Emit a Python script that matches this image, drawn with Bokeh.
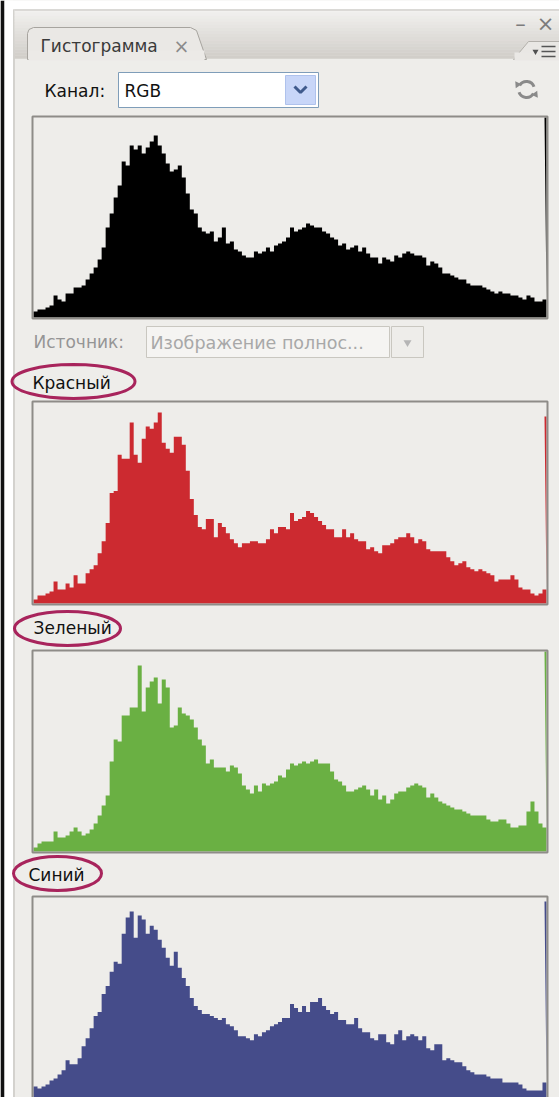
from bokeh.plotting import figure
from bokeh.models import Range1d, ColumnDataSource
from bokeh.embed import file_html
from bokeh.resources import INLINE
from bokeh.core.properties import value

# ---------------- data (0..100 of histogram height) ----------------
bin_start = list(range(0, 256, 2))          # 128 bins, 2 levels each
rgb_vals = [3, 4, 4, 5, 6, 11, 9, 8, 12, 12,
            15, 15, 16, 19, 22, 25, 29, 35, 45, 52,
            60, 66, 78, 76, 86, 84, 86, 82, 85, 88,
            91, 86, 82, 77, 73, 74, 76, 70, 62, 54,
            52, 45, 43, 42, 43, 38, 40, 45, 37, 38,
            34, 33, 31, 30, 30, 33, 32, 33, 35, 33,
            36, 37, 38, 40, 45, 43, 44, 45, 47, 46,
            45, 45, 43, 42, 40, 39, 36, 37, 34, 35,
            36, 33, 35, 32, 30, 30, 27, 30, 29, 28,
            31, 30, 32, 33, 32, 31, 31, 30, 26, 28,
            27, 25, 22, 22, 21, 20, 19, 19, 17, 16,
            16, 16, 15, 14, 13, 12, 13, 12, 12, 11,
            11, 10, 9, 11, 10, 8, 8, 9]
red_vals = [2, 4, 4, 5, 6, 11, 7, 7, 10, 8,
            14, 10, 10, 15, 17, 19, 25, 31, 40, 55,
            56, 74, 72, 72, 90, 74, 70, 82, 88, 87,
            90, 95, 80, 77, 75, 83, 83, 79, 66, 52,
            44, 38, 37, 42, 42, 33, 40, 38, 35, 32,
            30, 28, 30, 30, 31, 31, 30, 30, 32, 37,
            35, 38, 38, 37, 45, 41, 42, 43, 46, 45,
            43, 41, 39, 37, 37, 33, 33, 37, 33, 35,
            32, 31, 31, 27, 28, 26, 25, 29, 29, 30,
            32, 33, 33, 35, 33, 30, 32, 31, 27, 26,
            26, 26, 26, 23, 21, 19, 20, 21, 18, 17,
            16, 17, 16, 15, 14, 11, 12, 12, 12, 14,
            12, 8, 7, 7, 5, 4, 5, 7]
green_vals = [2, 4, 5, 5, 5, 10, 7, 7, 8, 10,
              12, 10, 8, 9, 11, 14, 18, 23, 28, 45,
              56, 55, 68, 68, 72, 72, 93, 70, 82, 85,
              87, 74, 86, 82, 62, 63, 72, 69, 68, 66,
              62, 56, 53, 44, 46, 42, 42, 42, 40, 43,
              42, 39, 33, 31, 29, 33, 30, 34, 33, 34,
              35, 38, 37, 41, 44, 43, 44, 45, 44, 45,
              46, 44, 44, 44, 40, 36, 35, 33, 30, 30,
              31, 32, 33, 31, 28, 31, 26, 28, 24, 26,
              29, 30, 30, 32, 33, 34, 33, 32, 27, 29,
              27, 25, 24, 23, 22, 21, 21, 20, 19, 18,
              18, 18, 18, 16, 15, 15, 16, 16, 14, 12,
              12, 13, 13, 20, 25, 20, 14, 12]
blue_vals = [6, 5, 6, 7, 9, 10, 12, 14, 19, 17,
             17, 20, 26, 30, 35, 41, 43, 52, 56, 63,
             68, 67, 82, 90, 93, 80, 91, 89, 82, 86,
             84, 79, 75, 70, 66, 73, 65, 60, 56, 50,
             46, 44, 42, 42, 41, 40, 39, 40, 37, 36,
             34, 31, 31, 30, 29, 32, 31, 33, 34, 36,
             37, 38, 40, 40, 47, 45, 43, 46, 43, 48,
             48, 50, 46, 44, 42, 43, 39, 39, 37, 37,
             40, 35, 33, 33, 30, 29, 32, 32, 28, 27,
             32, 34, 29, 31, 32, 31, 29, 31, 25, 24,
             27, 27, 19, 20, 19, 18, 18, 16, 14, 13,
             12, 12, 12, 11, 10, 10, 10, 8, 8, 8,
             8, 7, 5, 4, 4, 4, 4, 8]
edge_level = 255
edge_vals = [100, 93, 100, 98]          # level 255 spike: RGB, red, green, blue
channel_names = ["Красный", "Зеленый", "Синий"]

# ---------------- page geometry ----------------
W, H = 559, 1097
PX0, PY0 = 0, 0
PANEL = "#EEEDEA"
FONT = value("DejaVu Sans")
FS = "17px"

p = figure(width=W, height=H, x_range=Range1d(PX0, PX0 + W), y_range=Range1d(PY0 + H, PY0),
           output_backend="svg", toolbar_location=None, x_axis_type=None, y_axis_type=None,
           min_border=0, min_border_left=0, min_border_right=0, min_border_top=0, min_border_bottom=0)
p.outline_line_color = None
p.background_fill_color = PANEL
p.border_fill_color = PANEL
p.grid.visible = False

# outer white top band, black left edge, white strip and panel border
p.quad(left=[0], right=[W], top=[0], bottom=[8.5], fill_color="white", line_color=None)
p.quad(left=[0], right=[4], top=[0], bottom=[H], fill_color="#111111", line_color=None)
p.quad(left=[4], right=[12.5], top=[0], bottom=[H], fill_color="white", line_color=None)
p.segment(x0=[13.5], y0=[9], x1=[13.5], y1=[H], line_color="#B9B7B2", line_width=1)

# header gradient
c0 = (0xF2, 0xF1, 0xEF)
c1 = (0xD1, 0xCE, 0xC9)
nb = 16
top_h, bot_h = 9, 58
for i in range(nb):
    t = i / (nb - 1)
    col = "#%02X%02X%02X" % tuple(int(c0[k] + (c1[k] - c0[k]) * t) for k in range(3))
    y0 = top_h + (bot_h - top_h) * i / nb
    y1 = top_h + (bot_h - top_h) * (i + 1) / nb
    p.quad(left=[14], right=[W], top=[y0], bottom=[y1 + 0.3], fill_color=col, line_color=None)
p.segment(x0=[14], y0=[9.5], x1=[W], y1=[9.5], line_color="#C4C2BE", line_width=1)

# tab
tab_x = [27, 27, 28.5, 33, 190, 196, 206]
tab_y = [59, 33, 29, 27, 27, 30, 59]
p.patch(tab_x, tab_y, fill_color="#EAE8E5", line_color="#A7A49F", line_width=1)
p.quad(left=[28], right=[204], top=[50], bottom=[60], fill_color="#ECEAE7", line_color=None)
p.text(x=[40], y=[45], text=["Гистограмма"], text_font=FONT, text_font_size=FS,
       text_baseline="middle", text_color="#3A3A3A")
p.text(x=[181], y=[45], text=["×"], text_font=FONT, text_font_size="19px",
       text_baseline="middle", text_align="center", text_color="#8A8A8A")

# right menu tab
p.patch([513, 528, W, W], [59, 41, 41, 59], fill_color="#E9E7E4", line_color="#B3B0AB", line_width=1)
p.quad(left=[514], right=[W], top=[52], bottom=[60], fill_color="#EAE8E5", line_color=None)
p.text(x=[520, 545], y=[23, 23], text=["–", "×"], text_font=FONT, text_font_size="21px",
       text_baseline="middle", text_align="center", text_color="#7C7C7C")
p.scatter(x=[535], y=[51], marker="inverted_triangle", size=6, fill_color="#505050", line_color=None)
p.segment(x0=[541, 541, 541], y0=[46, 51, 56], x1=[555, 555, 555], y1=[46, 51, 56],
          line_color="#555555", line_width=1.6)

# channel row
p.text(x=[44], y=[90], text=["Канал:"], text_font=FONT, text_font_size=FS,
       text_baseline="middle", text_color="#111111")
p.quad(left=[118], right=[318], top=[72], bottom=[107], fill_color="white", line_color="#7F9DB9", line_width=1)
p.text(x=[124], y=[90], text=["RGB"], text_font=FONT, text_font_size=FS,
       text_baseline="middle", text_color="#111111")
p.quad(left=[285], right=[315], top=[75], bottom=[104], fill_color="#C8D6F8", line_color="#AFC2EC", line_width=1)
p.line(x=[294, 300, 306], y=[86, 92, 86], line_color="#3F5A8C", line_width=3)

# refresh icon
p.arc(x=[526, 526], y=[89, 89], radius=8, radius_units="screen",
      start_angle=[0.35, 3.5], end_angle=[2.6, 5.75], line_color="#8A8A8A", line_width=3)
p.scatter(x=[517, 535], y=[84, 94], marker="triangle", size=7, angle=[0.6, 3.75],
          fill_color="#8A8A8A", line_color=None)

# source row (disabled)
p.text(x=[33], y=[341], text=["Источник:"], text_font=FONT, text_font_size=FS,
       text_baseline="middle", text_color="#959595")
p.quad(left=[146], right=[389], top=[326], bottom=[357], fill_color="#F5F4F2", line_color="#C9C7C0", line_width=1)
p.text(x=[150], y=[342], text=["Изображение полнос..."], text_font=FONT, text_font_size="17.5px",
       text_baseline="middle", text_color="#A8A8A8")
p.quad(left=[391], right=[423], top=[326], bottom=[357], fill_color="#EEEDEA", line_color="#C9C7C0", line_width=1)
p.scatter(x=[407], y=[342], marker="inverted_triangle", size=8, fill_color="#B5B5B5", line_color=None)

# ---------------- histograms ----------------
HL, HR = 33, 546
kx = (HR - HL) / 256
p.extra_x_ranges["lv"] = Range1d(start=-(HL - PX0) / kx, end=256 + (PX0 + W - HR) / kx)

hists = [
    ("rgb", rgb_vals, edge_vals[0], "#000000", 117, 317),
    ("red", red_vals, edge_vals[1], "#CC2A30", 402, 603),
    ("green", green_vals, edge_vals[2], "#6AB043", 651, 851),
    ("blue", blue_vals, edge_vals[3], "#454C8A", 897, 1098),
]
for name, vals, edge, color, top, base in hists:
    k = (base - top) / 100.0
    p.extra_y_ranges[name] = Range1d(start=-(PY0 + H - base) / k, end=(base - PY0) / k)
    # step outline built from the bins: each bin is flat across its two levels
    xs, ys = [], []
    for b, v in zip(bin_start, vals):
        xs += [b, b + 2]
        ys += [v, v]
    xs += [edge_level, edge_level + 1]
    ys += [edge, edge]
    src = ColumnDataSource(dict(x=xs, y=ys))
    p.varea(x="x", y1=0, y2="y", source=src, x_range_name="lv", y_range_name=name, fill_color=color)
    p.quad(left=[HL - 1], right=[HR + 1], top=[top - 1], bottom=[base + 1], fill_color=None,
           line_color="#8E8C88", line_width=2)

# channel labels with highlight ellipses
lab_x = [32, 33, 28]
lab_y = [382, 627, 874]
ell_x = [73, 67, 57]
ell_y = [381, 628, 873]
ell_w = [123, 106, 88]
ell_h = [34, 34, 34]
p.text(x=lab_x, y=lab_y, text=channel_names, text_font=FONT, text_font_size=FS,
       text_baseline="middle", text_color="#111111")
p.ellipse(x=ell_x, y=ell_y, width=ell_w, height=ell_h, width_units="screen", height_units="screen",
          fill_color=None, line_color="#A8245C", line_width=3)

open("out.html", "w").write(file_html(p, INLINE))
